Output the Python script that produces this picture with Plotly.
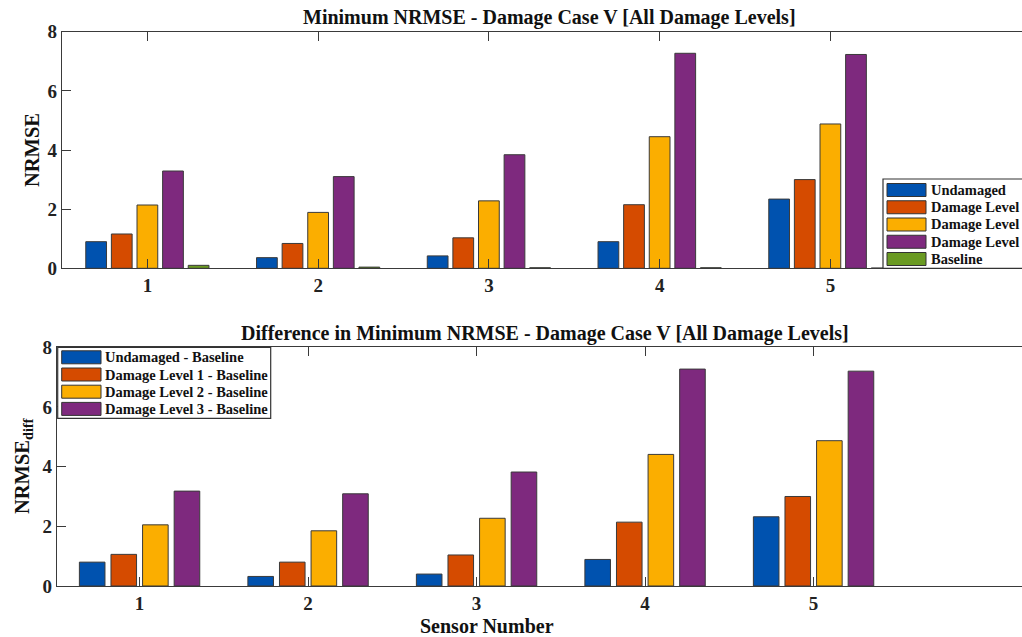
import plotly.graph_objects as go

W, H = 1022, 637

sensors = [1, 2, 3, 4, 5]
top_names = ["Undamaged", "Damage Level 1", "Damage Level 2", "Damage Level 3", "Baseline"]
undamaged = [0.90, 0.36, 0.42, 0.90, 2.34]
level1 = [1.16, 0.84, 1.03, 2.15, 3.00]
level2 = [2.14, 1.89, 2.28, 4.45, 4.88]
level3 = [3.29, 3.10, 3.84, 7.27, 7.23]
baseline = [0.10, 0.04, 0.02, 0.02, 0.01]

diff_names = ["Undamaged - Baseline", "Damage Level 1 - Baseline",
              "Damage Level 2 - Baseline", "Damage Level 3 - Baseline"]
diff_undamaged = [0.80, 0.32, 0.40, 0.89, 2.32]
diff_level1 = [1.06, 0.80, 1.04, 2.14, 3.00]
diff_level2 = [2.05, 1.85, 2.27, 4.41, 4.87]
diff_level3 = [3.18, 3.09, 3.82, 7.27, 7.20]

y_ticks = [0, 2, 4, 6, 8]
colors = ["#0052AF", "#D54B00", "#FBAE00", "#7E297E", "#6A9A22"]

FONT = "Liberation Serif"
AX = "#3a3a3a"

def px(x):
    return x / W

def py(y):
    return 1 - y / H

fig = go.Figure()

top_series = [undamaged, level1, level2, level3, baseline]
for name, vals, c in zip(top_names, top_series, colors):
    fig.add_trace(go.Bar(x=sensors, y=vals, name=name, marker=dict(color=c, line=dict(color="#3a3a3a", width=1)),
                         xaxis="x", yaxis="y", showlegend=False))

diff_series = [diff_undamaged, diff_level1, diff_level2, diff_level3]
for name, vals, c in zip(diff_names, diff_series, colors):
    fig.add_trace(go.Bar(x=sensors, y=vals, name=name, marker=dict(color=c, line=dict(color="#3a3a3a", width=1)),
                         xaxis="x2", yaxis="y2", showlegend=False))

tickfont = dict(family=FONT, size=19, color="#222222", weight="bold")
axcommon = dict(showgrid=False, zeroline=False, showline=True, linecolor=AX, linewidth=1.2,
                ticks="inside", ticklen=9, tickcolor=AX, tickfont=tickfont)

top_left, top_right_range = 62, 0.5 + (W - 62) / 170.75
bot_left, bot_right_range = 57, 0.51 + (W - 57) / 168.5

fig.update_layout(
    width=W, height=H,
    margin=dict(l=0, r=0, t=0, b=0, autoexpand=False),
    plot_bgcolor="white", paper_bgcolor="white",
    barmode="group", bargap=0.25, bargroupgap=0.19,
    xaxis=dict(domain=[px(top_left), 1], range=[0.5, top_right_range], tickvals=sensors,
               anchor="y", mirror="ticks", **axcommon),
    yaxis=dict(domain=[py(268.3), py(31.7)], range=[0, 8], tickvals=y_ticks, anchor="x", **axcommon),
    xaxis2=dict(domain=[px(bot_left), 1], range=[0.51, bot_right_range], tickvals=sensors,
                anchor="y2", mirror="ticks", **axcommon),
    yaxis2=dict(domain=[py(586), py(347.3)], range=[0, 8], tickvals=y_ticks, anchor="x2", **axcommon),
)

ann = []
shapes = []
ann.append(dict(text="Minimum NRMSE - Damage Case V [All Damage Levels]", x=px(549), y=py(18),
                xref="paper", yref="paper", showarrow=False, xanchor="center", yanchor="middle",
                font=dict(family=FONT, size=20, color="#111111", weight="bold")))
ann.append(dict(text="Difference in Minimum NRMSE - Damage Case V [All Damage Levels]", x=px(545), y=py(333),
                xref="paper", yref="paper", showarrow=False, xanchor="center", yanchor="middle",
                font=dict(family=FONT, size=20, color="#111111", weight="bold")))
ann.append(dict(text="NRMSE", x=px(32), y=py(150), xref="paper", yref="paper", showarrow=False,
                textangle=-90, xanchor="center", yanchor="middle",
                font=dict(family=FONT, size=20.5, color="#111111", weight="bold")))
ann.append(dict(text="NRMSE<sub>diff</sub>", x=px(23), y=py(466), xref="paper", yref="paper", showarrow=False,
                textangle=-90, xanchor="center", yanchor="middle",
                font=dict(family=FONT, size=20.5, color="#111111", weight="bold")))
ann.append(dict(text="Sensor Number", x=px(487), y=py(626), xref="paper", yref="paper", showarrow=False,
                xanchor="center", yanchor="middle",
                font=dict(family=FONT, size=20, color="#111111", weight="bold")))

def legend(names, box, sw_x0, sw_x1, text_x, row0, step):
    x0, y0, x1, y1 = box
    shapes.append(dict(type="rect", xref="paper", yref="paper", x0=px(x0), x1=px(x1), y0=py(y1), y1=py(y0),
                       line=dict(color="#333333", width=1.2), fillcolor="white", layer="above"))
    for i, (n, c) in enumerate(zip(names, colors)):
        yc = row0 + i * step
        shapes.append(dict(type="rect", xref="paper", yref="paper", x0=px(sw_x0), x1=px(sw_x1),
                           y0=py(yc + 6.5), y1=py(yc - 6.5), line=dict(color="#333333", width=1),
                           fillcolor=c, layer="above"))
        ann.append(dict(text=n, x=px(text_x), y=py(yc), xref="paper", yref="paper", showarrow=False,
                        xanchor="left", yanchor="middle",
                        font=dict(family=FONT, size=14.5, color="#111111", weight="bold")))

legend(top_names, (883, 179, 1040, 268.3), 887, 926, 929, 190, 17.25)
legend(diff_names, (57.7, 347.3, 270.7, 418.3), 61.7, 101, 103, 357.3, 17.2)

fig.update_layout(annotations=ann, shapes=shapes)
fig.write_html("out.html")
